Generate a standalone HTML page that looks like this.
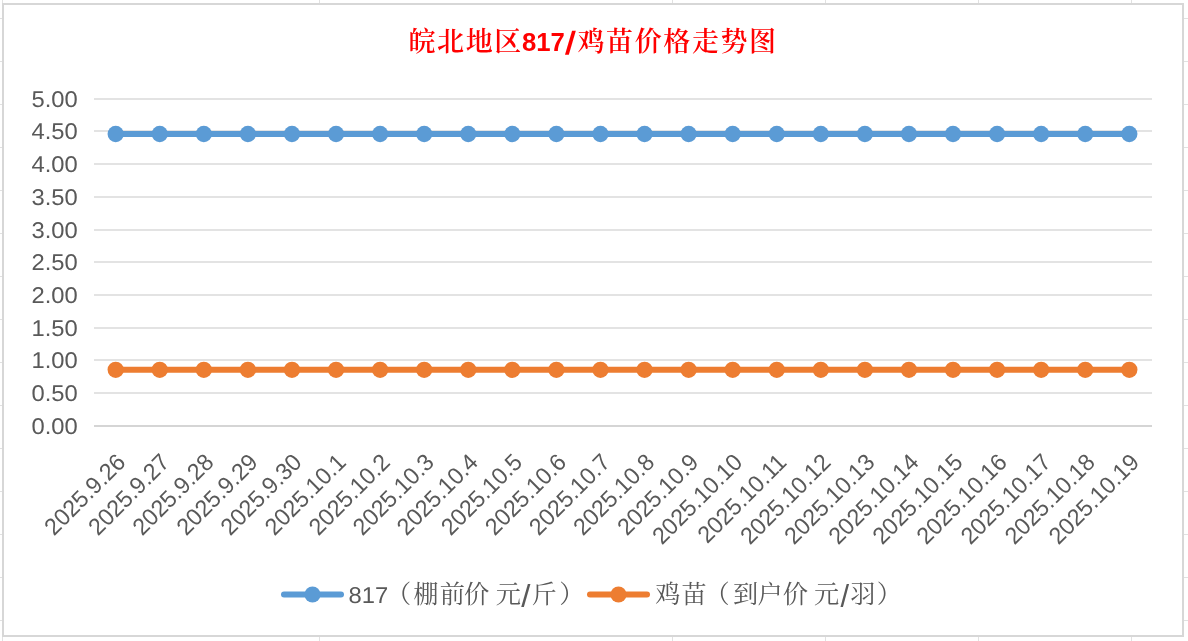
<!DOCTYPE html>
<html lang="zh-CN"><head><meta charset="utf-8"><title>皖北地区817/鸡苗价格走势图</title>
<style>html,body{margin:0;padding:0;background:#fff;}body{width:1188px;height:641px;overflow:hidden;}svg{display:block;}.ax{font-family:"Liberation Sans","Noto Sans CJK SC",sans-serif;font-size:22.8px;text-rendering:geometricPrecision;fill:#595959;}.cj{font-family:"Liberation Serif","Noto Serif CJK SC",serif;font-size:25.2px;fill:#595959;}.sl{font-family:"Liberation Sans",sans-serif;font-size:30.8px;fill:#595959;}.tt{font-family:"Liberation Serif","Noto Serif CJK SC",serif;font-size:27px;letter-spacing:1.6px;font-weight:600;fill:#ff0000;}.tb{font-family:"Liberation Sans","Noto Sans CJK SC",sans-serif;font-weight:bold;font-size:25.7px;fill:#ff0000;}</style></head><body>
<svg width="1188" height="641" viewBox="0 0 1188 641">
<rect x="0" y="0" width="1188" height="641" fill="#ffffff"/>
<g fill="#e1e1e1" shape-rendering="crispEdges">
<rect x="2" y="0" width="1" height="641"/>
<rect x="319" y="0" width="1" height="641"/>
<rect x="672" y="0" width="1" height="641"/>
<rect x="825" y="0" width="1" height="641"/>
<rect x="978" y="0" width="1" height="641"/>
<rect x="1131" y="0" width="1" height="641"/>
<rect x="0" y="18" width="1188" height="1"/>
<rect x="0" y="61" width="1188" height="1"/>
<rect x="0" y="104" width="1188" height="1"/>
<rect x="0" y="147" width="1188" height="1"/>
<rect x="0" y="190" width="1188" height="1"/>
<rect x="0" y="233" width="1188" height="1"/>
<rect x="0" y="276" width="1188" height="1"/>
<rect x="0" y="319" width="1188" height="1"/>
<rect x="0" y="362" width="1188" height="1"/>
<rect x="0" y="405" width="1188" height="1"/>
<rect x="0" y="448" width="1188" height="1"/>
<rect x="0" y="491" width="1188" height="1"/>
<rect x="0" y="534" width="1188" height="1"/>
<rect x="0" y="577" width="1188" height="1"/>
<rect x="0" y="620" width="1188" height="1"/>
</g>
<rect x="2" y="3" width="1182" height="634" fill="#d7d7d7" shape-rendering="crispEdges"/>
<rect x="4" y="5" width="1178" height="630" fill="#ffffff" shape-rendering="crispEdges"/>
<g fill="#e3e3e3" shape-rendering="crispEdges">
<rect x="94" y="98" width="1058" height="2"/>
<rect x="94" y="130" width="1058" height="2"/>
<rect x="94" y="163" width="1058" height="2"/>
<rect x="94" y="196" width="1058" height="2"/>
<rect x="94" y="229" width="1058" height="2"/>
<rect x="94" y="261" width="1058" height="2"/>
<rect x="94" y="294" width="1058" height="2"/>
<rect x="94" y="327" width="1058" height="2"/>
<rect x="94" y="359" width="1058" height="2"/>
<rect x="94" y="392" width="1058" height="2"/>
<rect x="94" y="425" width="1058" height="2" fill="#d5d5d5"/>
</g>
<g class="ax" text-anchor="end">
<text transform="translate(77.8 107.0) scale(1.043 1)">5.00</text>
<text transform="translate(77.8 139.0) scale(1.043 1)">4.50</text>
<text transform="translate(77.8 172.0) scale(1.043 1)">4.00</text>
<text transform="translate(77.8 205.0) scale(1.043 1)">3.50</text>
<text transform="translate(77.8 238.0) scale(1.043 1)">3.00</text>
<text transform="translate(77.8 270.0) scale(1.043 1)">2.50</text>
<text transform="translate(77.8 303.0) scale(1.043 1)">2.00</text>
<text transform="translate(77.8 336.0) scale(1.043 1)">1.50</text>
<text transform="translate(77.8 368.0) scale(1.043 1)">1.00</text>
<text transform="translate(77.8 401.0) scale(1.043 1)">0.50</text>
<text transform="translate(77.8 434.0) scale(1.043 1)">0.00</text>
</g>
<g fill="#5b9bd5" stroke="none"><path d="M115.70 134H1129.31" stroke="#5b9bd5" stroke-width="6" stroke-linecap="round" fill="none"/>
<circle cx="115.70" cy="134" r="8.15"/>
<circle cx="159.77" cy="134" r="8.15"/>
<circle cx="203.84" cy="134" r="8.15"/>
<circle cx="247.91" cy="134" r="8.15"/>
<circle cx="291.98" cy="134" r="8.15"/>
<circle cx="336.05" cy="134" r="8.15"/>
<circle cx="380.12" cy="134" r="8.15"/>
<circle cx="424.19" cy="134" r="8.15"/>
<circle cx="468.26" cy="134" r="8.15"/>
<circle cx="512.33" cy="134" r="8.15"/>
<circle cx="556.40" cy="134" r="8.15"/>
<circle cx="600.47" cy="134" r="8.15"/>
<circle cx="644.54" cy="134" r="8.15"/>
<circle cx="688.61" cy="134" r="8.15"/>
<circle cx="732.68" cy="134" r="8.15"/>
<circle cx="776.75" cy="134" r="8.15"/>
<circle cx="820.82" cy="134" r="8.15"/>
<circle cx="864.89" cy="134" r="8.15"/>
<circle cx="908.96" cy="134" r="8.15"/>
<circle cx="953.03" cy="134" r="8.15"/>
<circle cx="997.10" cy="134" r="8.15"/>
<circle cx="1041.17" cy="134" r="8.15"/>
<circle cx="1085.24" cy="134" r="8.15"/>
<circle cx="1129.31" cy="134" r="8.15"/>
</g>
<g fill="#ed7d31" stroke="none"><path d="M115.70 369.8H1129.31" stroke="#ed7d31" stroke-width="6" stroke-linecap="round" fill="none"/>
<circle cx="115.70" cy="369.8" r="8.15"/>
<circle cx="159.77" cy="369.8" r="8.15"/>
<circle cx="203.84" cy="369.8" r="8.15"/>
<circle cx="247.91" cy="369.8" r="8.15"/>
<circle cx="291.98" cy="369.8" r="8.15"/>
<circle cx="336.05" cy="369.8" r="8.15"/>
<circle cx="380.12" cy="369.8" r="8.15"/>
<circle cx="424.19" cy="369.8" r="8.15"/>
<circle cx="468.26" cy="369.8" r="8.15"/>
<circle cx="512.33" cy="369.8" r="8.15"/>
<circle cx="556.40" cy="369.8" r="8.15"/>
<circle cx="600.47" cy="369.8" r="8.15"/>
<circle cx="644.54" cy="369.8" r="8.15"/>
<circle cx="688.61" cy="369.8" r="8.15"/>
<circle cx="732.68" cy="369.8" r="8.15"/>
<circle cx="776.75" cy="369.8" r="8.15"/>
<circle cx="820.82" cy="369.8" r="8.15"/>
<circle cx="864.89" cy="369.8" r="8.15"/>
<circle cx="908.96" cy="369.8" r="8.15"/>
<circle cx="953.03" cy="369.8" r="8.15"/>
<circle cx="997.10" cy="369.8" r="8.15"/>
<circle cx="1041.17" cy="369.8" r="8.15"/>
<circle cx="1085.24" cy="369.8" r="8.15"/>
<circle cx="1129.31" cy="369.8" r="8.15"/>
</g>
<g class="ax" text-anchor="end">
<text transform="translate(126.90 463.6) rotate(-45) scale(0.9816 1)" style="font-size:23.6px">2025.9.26</text>
<text transform="translate(170.97 463.6) rotate(-45) scale(0.9816 1)" style="font-size:23.6px">2025.9.27</text>
<text transform="translate(215.04 463.6) rotate(-45) scale(0.9816 1)" style="font-size:23.6px">2025.9.28</text>
<text transform="translate(259.11 463.6) rotate(-45) scale(0.9816 1)" style="font-size:23.6px">2025.9.29</text>
<text transform="translate(303.18 463.6) rotate(-45) scale(0.9816 1)" style="font-size:23.6px">2025.9.30</text>
<text transform="translate(347.25 463.6) rotate(-45) scale(0.9816 1)" style="font-size:23.6px">2025.10.1</text>
<text transform="translate(391.32 463.6) rotate(-45) scale(0.9816 1)" style="font-size:23.6px">2025.10.2</text>
<text transform="translate(435.39 463.6) rotate(-45) scale(0.9816 1)" style="font-size:23.6px">2025.10.3</text>
<text transform="translate(479.46 463.6) rotate(-45) scale(0.9816 1)" style="font-size:23.6px">2025.10.4</text>
<text transform="translate(523.53 463.6) rotate(-45) scale(0.9816 1)" style="font-size:23.6px">2025.10.5</text>
<text transform="translate(567.60 463.6) rotate(-45) scale(0.9816 1)" style="font-size:23.6px">2025.10.6</text>
<text transform="translate(611.67 463.6) rotate(-45) scale(0.9816 1)" style="font-size:23.6px">2025.10.7</text>
<text transform="translate(655.74 463.6) rotate(-45) scale(0.9816 1)" style="font-size:23.6px">2025.10.8</text>
<text transform="translate(699.81 463.6) rotate(-45) scale(0.9816 1)" style="font-size:23.6px">2025.10.9</text>
<text transform="translate(743.88 463.6) rotate(-45) scale(0.9816 1)" style="font-size:23.6px">2025.10.10</text>
<text transform="translate(787.95 463.6) rotate(-45) scale(0.9816 1)" style="font-size:23.6px">2025.10.11</text>
<text transform="translate(832.02 463.6) rotate(-45) scale(0.9816 1)" style="font-size:23.6px">2025.10.12</text>
<text transform="translate(876.09 463.6) rotate(-45) scale(0.9816 1)" style="font-size:23.6px">2025.10.13</text>
<text transform="translate(920.16 463.6) rotate(-45) scale(0.9816 1)" style="font-size:23.6px">2025.10.14</text>
<text transform="translate(964.23 463.6) rotate(-45) scale(0.9816 1)" style="font-size:23.6px">2025.10.15</text>
<text transform="translate(1008.30 463.6) rotate(-45) scale(0.9816 1)" style="font-size:23.6px">2025.10.16</text>
<text transform="translate(1052.37 463.6) rotate(-45) scale(0.9816 1)" style="font-size:23.6px">2025.10.17</text>
<text transform="translate(1096.44 463.6) rotate(-45) scale(0.9816 1)" style="font-size:23.6px">2025.10.18</text>
<text transform="translate(1140.51 463.6) rotate(-45) scale(0.9816 1)" style="font-size:23.6px">2025.10.19</text>
</g>
<text x="408.5" y="51.3" class="tt">皖北地区</text>
<text x="522" y="51.2" class="tb">817</text>
<text x="0" y="0" transform="translate(564.7 54.2) skewX(-6)" style="font-family:'Liberation Sans',sans-serif;font-size:32.2px;font-weight:bold;fill:#ff0000">/</text>
<text x="577.5" y="51.3" class="tt">鸡苗价格走势图</text>
<path d="M284 594.5h57" stroke="#5b9bd5" stroke-width="6" stroke-linecap="round" fill="none"/><circle cx="312.5" cy="594.5" r="8" fill="#5b9bd5"/>
<text transform="translate(348.6 603) scale(1.043 1)" class="ax">817</text>
<text x="386.1 413.2 439.65 463.9" y="603.3" class="cj">（棚前价</text>
<text x="495.75" y="603.3" class="cj">元</text>
<text transform="translate(521.2 606.8) scale(1.07 1)" class="sl">/</text>
<text x="531.6 559.3" y="603.3" class="cj">斤）</text>
<path d="M590 594.5h57" stroke="#ed7d31" stroke-width="6" stroke-linecap="round" fill="none"/><circle cx="618.5" cy="594.5" r="8" fill="#ed7d31"/>
<text x="655.2 681.45 704.5 732.95 757.6 782.65" y="603.3" class="cj">鸡苗（到户价</text>
<text x="813.9" y="603.3" class="cj">元</text>
<text transform="translate(840.5 606.8) scale(1.0 1)" class="sl">/</text>
<text x="850.2 876.75" y="603.3" class="cj">羽）</text>
</svg></body></html>
